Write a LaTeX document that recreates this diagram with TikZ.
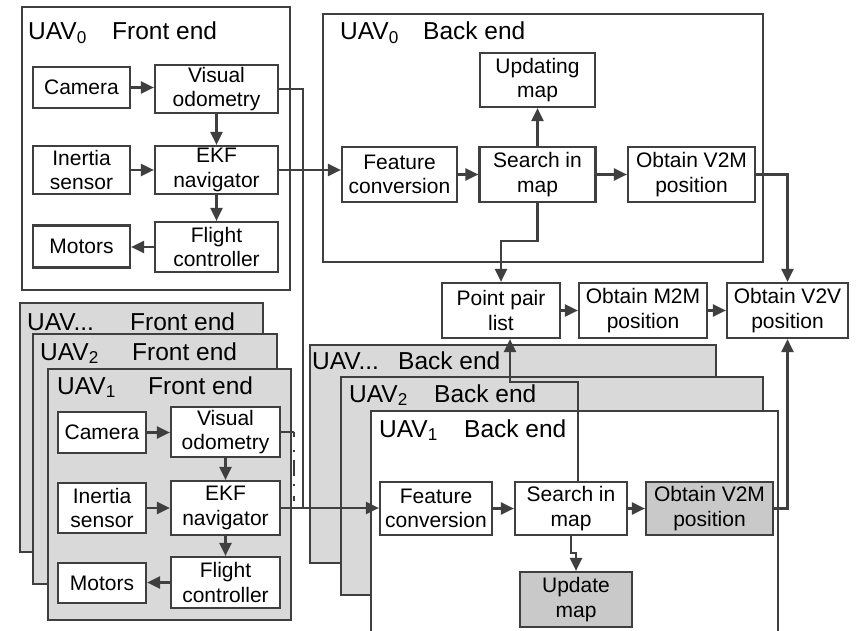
\documentclass[tikz,border=0pt]{standalone}
\usepackage{fontspec}
\setmainfont{Liberation Sans}
\usetikzlibrary{arrows.meta,calc}
\definecolor{ln}{HTML}{3F3F3F}
\definecolor{bg}{HTML}{D9D9D9}
\definecolor{dk}{HTML}{C9C9C9}
\begin{document}
\begin{tikzpicture}[x=1pt,y=-1pt,
 blk/.style={draw=ln, line width=2.2pt, fill=white, inner sep=0pt, align=center, font=\fontsize{21}{24.5}\selectfont},
 blkg/.style={blk, fill=dk},
 cont/.style={draw=ln, line width=2.5pt},
 ttl/.style={anchor=west, inner sep=0pt, font=\fontsize{24.5}{26}\selectfont},
 arr/.style={draw=ln, line width=2.2pt, -{Triangle[length=13pt,width=12pt]}},
 wire/.style={draw=ln, line width=2.2pt},
]
\useasboundingbox (0,0) rectangle (856,631);
\fill[white] (0,0) rectangle (856,631);

% ---------- UAV0 front end ----------
\draw[cont, fill=white] (22,7) rectangle (290,290);
\node[ttl] (t0f) at (28,33) {\makebox[84pt][l]{UAV\textsubscript{0}}Front end};
\node[blk, minimum width=97pt, minimum height=41pt] (cam0) at (81.5,87.5) {Camera};
\node[blk, minimum width=123pt, minimum height=48pt] (vo0) at (216.5,89) {Visual\\odometry};
\node[blk, minimum width=97pt, minimum height=48pt] (ins0) at (81.5,170) {Inertia\\sensor};
\node[blk, minimum width=123pt, minimum height=48pt] (ekf0) at (216.5,170) {EKF\\navigator};
\node[blk, minimum width=97pt, minimum height=42pt] (mot0) at (81.5,246.5) {Motors};
\node[blk, minimum width=123pt, minimum height=50pt] (fc0) at (216.5,247) {Flight\\controller};
\draw[arr] (cam0.east) -- (cam0.east -| vo0.west);
\draw[arr] (vo0.south) -- (ekf0.north);
\draw[arr] (ins0.east) -- (ekf0.west);
\draw[arr] (ekf0.south) -- (fc0.north);
\draw[arr] (fc0.west) -- (fc0.west -| mot0.east);

% ---------- UAV0 back end ----------
\draw[cont, fill=white] (323,14) rectangle (763,262);
\node[ttl] (t0b) at (340,33) {\makebox[83pt][l]{UAV\textsubscript{0}}Back end};
\node[blk, minimum width=115pt, minimum height=54pt] (upd0) at (537.5,80) {Updating\\map};
\node[blk, minimum width=115pt, minimum height=55pt] (fcv0) at (399.5,174.5) {Feature\\conversion};
\node[blk, minimum width=116pt, minimum height=55pt] (sim0) at (537.5,174.5) {Search in\\map};
\node[blk, minimum width=127pt, minimum height=55pt] (v2m0) at (691.5,174.5) {Obtain V2M\\position};
\draw[arr] (fcv0.east) -- (sim0.west);
\draw[arr] (sim0.north) -- (upd0.south);
\draw[arr] (sim0.east) -- (v2m0.west);

% ---------- pairwise boxes ----------
\node[blk, minimum width=118pt, minimum height=55pt] (ppl) at (501,310.5) {Point pair\\list};
\node[blk, minimum width=128pt, minimum height=55pt] (m2m) at (643,310.5) {Obtain M2M\\position};
\node[blk, minimum width=121pt, minimum height=55pt] (v2v) at (787.5,310.5) {Obtain V2V\\position};
\draw[arr] (ppl.east) -- (m2m.west);
\draw[arr] (m2m.east) -- (v2v.west);

% ---------- front ends of other UAVs ----------
\draw[cont, fill=bg] (20,303) rectangle (263,552);
\node[ttl] (tnf) at (27,322) {\makebox[103pt][l]{UAV...}Front end};
\draw[cont, fill=bg] (33,334) rectangle (277,584);
\node[ttl] (t2f) at (40,353) {\makebox[92pt][l]{UAV\textsubscript{2}}Front end};
\draw[cont, fill=bg] (48,369) rectangle (291,620);
\node[ttl] (t1f) at (57,387) {\makebox[91pt][l]{UAV\textsubscript{1}}Front end};
\node[blk, minimum width=88pt, minimum height=41pt] (cam1) at (102,432.5) {Camera};
\node[blk, minimum width=109pt, minimum height=50pt] (vo1) at (225.5,432) {Visual\\odometry};
\node[blk, minimum width=88pt, minimum height=50pt] (ins1) at (102,508) {Inertia\\sensor};
\node[blk, minimum width=109pt, minimum height=54pt] (ekf1) at (225.5,508) {EKF\\navigator};
\node[blk, minimum width=88pt, minimum height=40pt] (mot1) at (102,583) {Motors};
\node[blk, minimum width=109pt, minimum height=51pt] (fc1) at (225.5,582.5) {Flight\\controller};
\draw[arr] (cam1.east) -- (cam1.east -| vo1.west);
\draw[arr] (vo1.south) -- (ekf1.north);
\draw[arr] (ins1.east) -- (ekf1.west);
\draw[arr] (ekf1.south) -- (fc1.north);
\draw[arr] (fc1.west) -- (fc1.west -| mot1.east);
\coordinate (d1) at (294,432);
\coordinate (d2) at (294,503);
\draw[wire] (vo1.east) -- (d1);
\draw[draw=ln, line width=1.5pt, dash pattern=on 5pt off 13pt on 2pt off 8pt on 16pt off 8pt on 2pt off 10pt] (d1) -- (d2);

% ---------- back ends of other UAVs ----------
\draw[cont, fill=bg] (310,345) rectangle (716,563);
\node[ttl] (tnb) at (312,361) {\makebox[86pt][l]{UAV...}Back end};
\draw[cont, fill=bg] (341,377) rectangle (763,595);
\node[ttl] (t2b) at (349,395) {\makebox[85pt][l]{UAV\textsubscript{2}}Back end};
\draw[cont, fill=white] (371,411) rectangle (778,640);
\node[ttl] (t1b) at (379,430) {\makebox[85pt][l]{UAV\textsubscript{1}}Back end};
\node[blk, minimum width=112pt, minimum height=53pt] (fcv1) at (436,508.5) {Feature\\conversion};
\node[blk, minimum width=112pt, minimum height=53pt] (sim1) at (571,508.5) {Search in\\map};
\node[blkg, minimum width=127pt, minimum height=53pt] (v2m1) at (709.5,508.5) {Obtain V2M\\position};
\node[blkg, minimum width=112pt, minimum height=55pt] (upd1) at (576,599.5) {Update\\map};
\draw[arr] (fcv1.east) -- (sim1.west);
\draw[arr] (sim1.east) -- (v2m1.west);
\draw[arr] (sim1.south) -- ++(0,17) -| (upd1.north);

% ---------- long connectors ----------
\coordinate (j) at (303,508);
\draw[arr] (ekf0.east) -- (ekf0.east -| fcv0.west);
\draw[wire] (vo0.east) -| (j);
\draw[arr] (ekf1.east) -- (ekf1.east -| fcv1.west);
\draw[arr] (sim0.south) -- ++(0,38) -| (ppl.north);
\draw[arr] ([xshift=7pt]sim1.north) -- ++(0,-99) -| ([xshift=9pt]ppl.south);
\draw[arr] (v2m0.east) -| (v2v.north);
\draw[arr] (v2m1.east) -| (v2v.south);
\end{tikzpicture}
\end{document}
